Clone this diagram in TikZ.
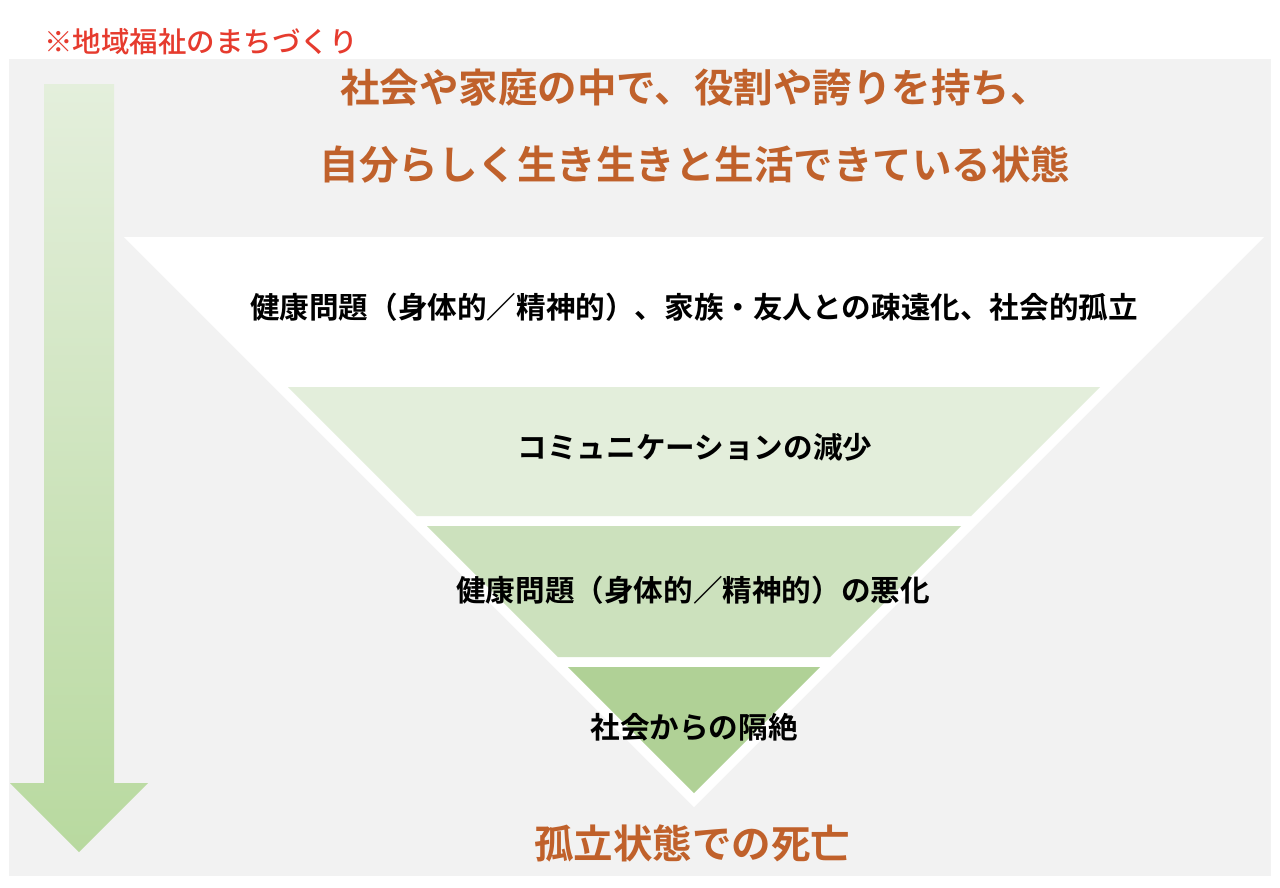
\documentclass[tikz,border=0pt]{standalone}
\usepackage{fontspec}
\newfontfamily\jp{Noto Sans CJK JP}[BoldFont={Noto Sans CJK JP Bold}]
\newfontfamily\jpm{Noto Sans CJK JP Medium}
\definecolor{bgray}{HTML}{F2F2F2}
\definecolor{brownt}{HTML}{C0612B}
\definecolor{rednote}{HTML}{E63B2E}
\definecolor{gA}{HTML}{E3EEDB}
\definecolor{gB}{HTML}{CCE1BD}
\definecolor{gC}{HTML}{B0D196}
\definecolor{arTop}{HTML}{E4EFDC}
\definecolor{arBot}{HTML}{B8D99F}
\begin{document}
\begin{tikzpicture}[x=1pt,y=-1pt,
  big/.style={font=\jp\bfseries\fontsize{39.5}{41}\selectfont, text=brownt, inner sep=0pt, anchor=center},
  lay/.style={font=\jp\bfseries\fontsize{29.6}{31}\selectfont, text=black, inner sep=0pt, anchor=center},
  note/.style={font=\jpm\fontsize{28.5}{30}\selectfont, text=rednote, inner sep=0pt, anchor=center}]
\useasboundingbox (0,0) rectangle (1280,887);
\fill[white] (0,0) rectangle (1280,887);
% gray panel
\fill[bgray] (9,59) rectangle (1271,876);
% down arrow
\shade[top color=arTop, bottom color=arBot]
  (44,84) -- (114,84) -- (114,783) -- (148,783) -- (79,852) -- (10,783) -- (44,783) -- cycle;
% white funnel
\fill[white] (124,237) -- (1264,237) -- (694,807) -- cycle;
% green layers (triangle apex at (694,793), slope 1)
\fill[gA] (288,387) -- (1100,387) -- (971,516) -- (417,516) -- cycle;
\fill[gB] (427,526) -- (961,526) -- (830,657) -- (558,657) -- cycle;
\fill[gC] (568,667) -- (820,667) -- (694,793) -- cycle;
% texts
\node[note] (n) at (201,42) {※地域福祉のまちづくり};
\node[big] (t1) at (695,88) {社会や家庭の中で、役割や誇りを持ち、};
\node[big] (t2) at (695,165) {自分らしく生き生きと生活できている状態};
\node[lay] (l1) at (694,307) {健康問題（身体的／精神的）、家族・友人との疎遠化、社会的孤立};
\node[lay] (l2) at (695,447) {コミュニケーションの減少};
\node[lay] (l3) at (693,590) {健康問題（身体的／精神的）の悪化};
\node[lay] (l4) at (694,727) {社会からの隔絶};
\node[big] (b) at (692,843) {孤立状態での死亡};
\end{tikzpicture}
\end{document}
